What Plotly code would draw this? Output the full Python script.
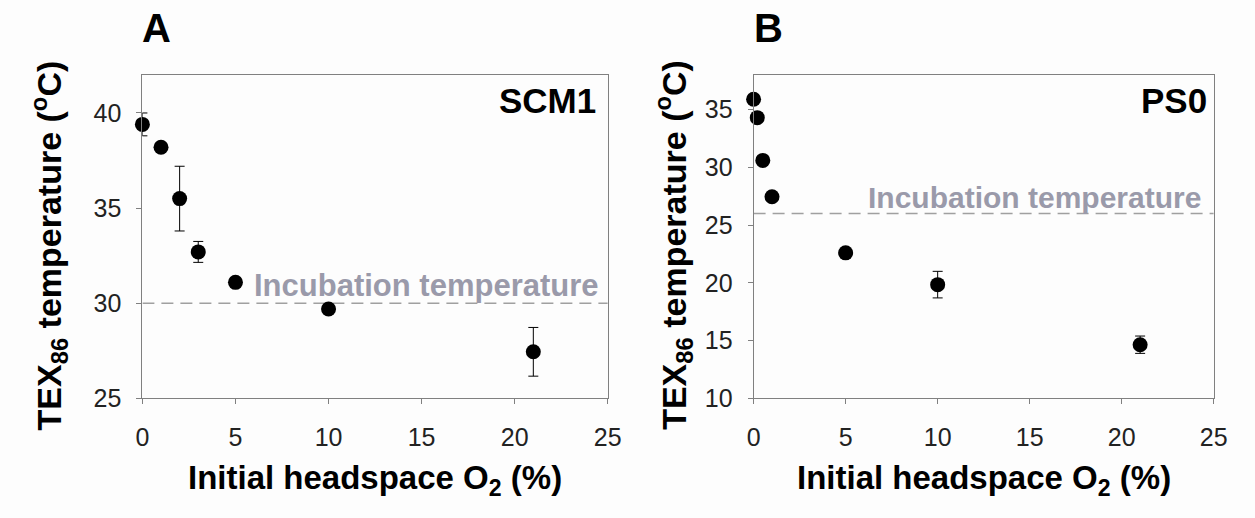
import plotly.graph_objects as go

# Panel A: SCM1
o2_a = [0, 1, 2, 3, 5, 10, 21]
tex_a = [39.4, 38.2, 35.5, 32.7, 31.1, 29.7, 27.45]
err_a = [0.6, 0, 1.7, 0.55, 0, 0, 1.28]
incub_a = 30

# Panel B: PS0
o2_b = [0, 0.2, 0.5, 1, 5, 10, 21]
tex_b = [35.9, 34.3, 30.6, 27.45, 22.6, 19.85, 14.65]
err_b = [0, 0, 0, 0, 0, 1.15, 0.75]
incub_b = 26

x_ticks = [0, 5, 10, 15, 20, 25]
y_ticks_a = [25, 30, 35, 40]
y_ticks_b = [10, 15, 20, 25, 30, 35]

W, H = 1255, 518
FONT = "Liberation Sans, Arial, sans-serif"
INCUB_COLOR = "#9a9aaa"


def px(x):
    return x / W


def py(y):
    return 1 - y / H


fig = go.Figure()

panels = [
    ("x", "y", o2_a, tex_a, err_a, incub_a),
    ("x2", "y2", o2_b, tex_b, err_b, incub_b),
]
for xa, ya, xs, ys, es, inc in panels:
    # incubation temperature reference line
    fig.add_trace(go.Scatter(
        x=[0, 25], y=[inc, inc], xaxis=xa, yaxis=ya, mode="lines",
        line=dict(color="#a0a0a0", width=1.5, dash="12px,7px"),
        showlegend=False, hoverinfo="skip",
    ))
    fig.add_trace(go.Scatter(
        x=xs, y=ys, xaxis=xa, yaxis=ya, mode="markers",
        marker=dict(color="black", size=15),
        error_y=dict(type="data", array=es, color="black", thickness=1, width=5),
        cliponaxis=False, showlegend=False,
    ))

axis_common = dict(
    showline=True, linecolor="#808080", linewidth=1, mirror=True,
    ticks="outside", ticklen=5, tickcolor="#808080",
    showgrid=False, zeroline=False,
    tickfont=dict(family=FONT, size=25, color="#222"),
)

fig.update_layout(
    width=W, height=H,
    margin=dict(l=0, r=0, t=0, b=0),
    paper_bgcolor="#fdfdfd", plot_bgcolor="#fdfdfd",
    font=dict(family=FONT),
    xaxis=dict(domain=[px(137.7), px(611)], range=[0, 25], tickvals=x_ticks,
               anchor="y", ticklabelstandoff=12, **axis_common),
    yaxis=dict(domain=[py(409.5), py(77)], range=[25, 42], tickvals=y_ticks_a,
               anchor="x", ticklabelstandoff=10, **axis_common),
    xaxis2=dict(domain=[px(759.3), px(1227.3)], range=[0, 25], tickvals=x_ticks,
                anchor="y2", ticklabelstandoff=12, **axis_common),
    yaxis2=dict(domain=[py(409.5), py(77)], range=[10, 38], tickvals=y_ticks_b,
                anchor="x2", ticklabelstandoff=10, **axis_common),
)

ann = []
# panel letters
for label, x in [("A", 152), ("B", 774)]:
    ann.append(dict(text=f"<b>{label}</b>", x=px(x), y=py(29), xref="paper", yref="paper",
                    showarrow=False, xanchor="center", yanchor="middle",
                    font=dict(size=40, color="black", family=FONT)))
# site names
for label, x in [("SCM1", 601), ("PS0", 1222)]:
    ann.append(dict(text=f"<b>{label}</b>", x=px(x), y=py(103), xref="paper", yref="paper",
                    showarrow=False, xanchor="right", yanchor="middle",
                    font=dict(size=35, color="black", family=FONT)))
# incubation labels
for x, y, size in [(604, 293, 31), (1216, 203, 30)]:
    ann.append(dict(text="<b>Incubation temperature</b>", x=px(x), y=py(y),
                    xref="paper", yref="paper", showarrow=False,
                    xanchor="right", yanchor="middle",
                    font=dict(size=size, color=INCUB_COLOR, family=FONT)))
# axis titles
for x in [374.4, 993.3]:
    ann.append(dict(text="<b>Initial headspace O<sub>2</sub> (%)</b>", x=px(x), y=py(493),
                    xref="paper", yref="paper", showarrow=False,
                    xanchor="center", yanchor="middle",
                    font=dict(size=33, color="black", family=FONT)))
for x in [43, 678]:
    ann.append(dict(text="<b>TEX<sub>86</sub> temperature (<sup>o</sup>C)</b>",
                    x=px(x), y=py(252), xref="paper", yref="paper", showarrow=False,
                    textangle=-90, xanchor="center", yanchor="middle",
                    font=dict(size=34, color="black", family=FONT)))
fig.update_layout(annotations=ann)

fig.write_html(
    "out.html",
    config={"displayModeBar": False},
    post_script="document.body.style.margin='0';document.body.style.overflow='hidden';",
)
